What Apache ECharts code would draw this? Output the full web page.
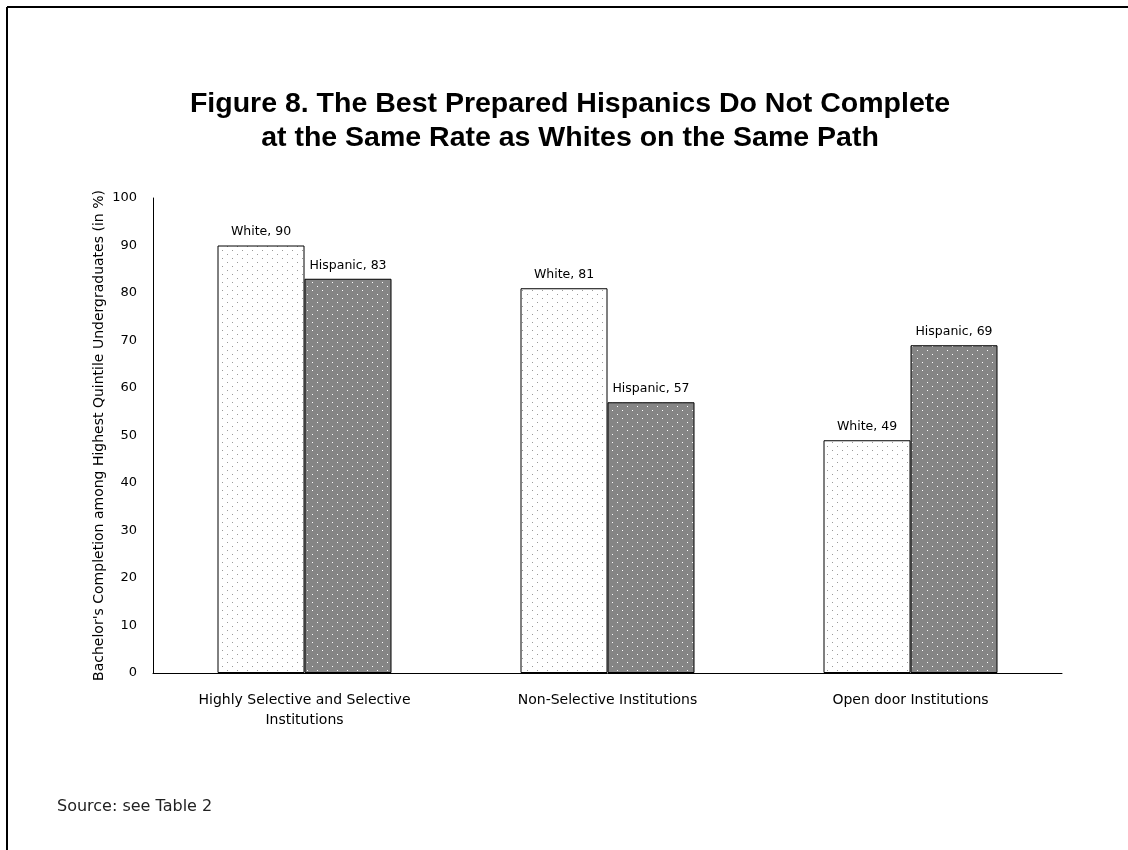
<!DOCTYPE html>
<html>
<head>
<meta charset="utf-8">
<script src="https://cdn.jsdelivr.net/npm/echarts@6/dist/echarts.min.js"></script>
<style>
html,body{margin:0;padding:0;background:#fff;}
#chart{width:1128px;height:850px;}
</style>
</head>
<body>
<div id="chart"></div>
<script>
const categories = ["Highly Selective and Selective\nInstitutions", "Non-Selective Institutions", "Open door Institutions"];
const seriesNames = ["White", "Hispanic"];
const whiteValues = [90, 81, 49];
const hispanicValues = [83, 57, 69];
const yTicks = { min: 0, max: 100, interval: 10 };

function makePattern(bg, dot) {
  const c = document.createElement('canvas');
  c.width = 10; c.height = 8;
  const ctx = c.getContext('2d');
  ctx.fillStyle = bg; ctx.fillRect(0, 0, 10, 8);
  ctx.fillStyle = dot;
  ctx.fillRect(2, 2, 1, 1);
  ctx.fillRect(7, 6, 1, 1);
  return c;
}

const chart = echarts.init(document.getElementById('chart'), null, { renderer: 'canvas' });
const font = '"Liberation Sans", Arial, sans-serif';
const wide = '"DejaVu Sans", sans-serif';

function labelFor(name) {
  return {
    show: true, position: 'top', distance: 7,
    fontFamily: wide, fontSize: 12.5, color: '#000',
    formatter: p => name + ', ' + p.value
  };
}

chart.setOption({
  animation: false,
  backgroundColor: '#fff',
  title: {
    text: 'Figure 8. The Best Prepared Hispanics Do Not Complete\nat the Same Rate as Whites on the Same Path',
    left: 565, top: 82,
    textAlign: 'center',
    textStyle: { fontFamily: font, fontWeight: 'bold', fontSize: 28.5, lineHeight: 34, color: '#000', align: 'center' }
  },
  graphic: [
    { type: 'line', shape: { x1: 7, y1: 7, x2: 1128, y2: 7 }, style: { stroke: '#000', lineWidth: 2 } },
    { type: 'line', shape: { x1: 7, y1: 7, x2: 7, y2: 850 }, style: { stroke: '#000', lineWidth: 2 } },
    { type: 'text', left: 57, top: 799, style: { text: 'Source: see Table 2', fontFamily: wide, fontSize: 16, fill: '#222' } }
  ],
  grid: { left: 153, right: 66, top: 198, bottom: 177, containLabel: false },
  xAxis: {
    type: 'category', data: categories,
    axisLine: { lineStyle: { color: '#000', width: 1 } },
    axisTick: { show: false },
    axisLabel: { fontFamily: wide, fontSize: 14, color: '#000', margin: 17, lineHeight: 20, interval: 0 }
  },
  yAxis: {
    type: 'value', min: yTicks.min, max: yTicks.max, interval: yTicks.interval,
    name: "Bachelor's Completion among Highest Quintile Undergraduates (in %)",
    nameLocation: 'middle', nameGap: 47, nameRotate: 90, nameMoveOverlap: false,
    nameTextStyle: { fontFamily: wide, fontSize: 14, color: '#000' },
    axisLine: { show: true, lineStyle: { color: '#000', width: 1 } },
    axisTick: { show: false },
    splitLine: { show: false },
    axisLabel: { fontFamily: wide, fontSize: 13, color: '#000', margin: 16 }
  },
  series: [
    {
      name: seriesNames[0], type: 'bar', data: whiteValues,
      barWidth: 87, barGap: '0%',
      itemStyle: { color: { image: makePattern('#ffffff', '#9a9a9a'), repeat: 'repeat' }, borderColor: '#000', borderWidth: 1 },
      label: labelFor(seriesNames[0])
    },
    {
      name: seriesNames[1], type: 'bar', data: hispanicValues,
      barWidth: 87, barGap: '0%',
      itemStyle: { color: { image: makePattern('#858585', '#ffffff'), repeat: 'repeat' }, borderColor: '#000', borderWidth: 1 },
      label: labelFor(seriesNames[1])
    }
  ]
});
</script>
</body>
</html>
